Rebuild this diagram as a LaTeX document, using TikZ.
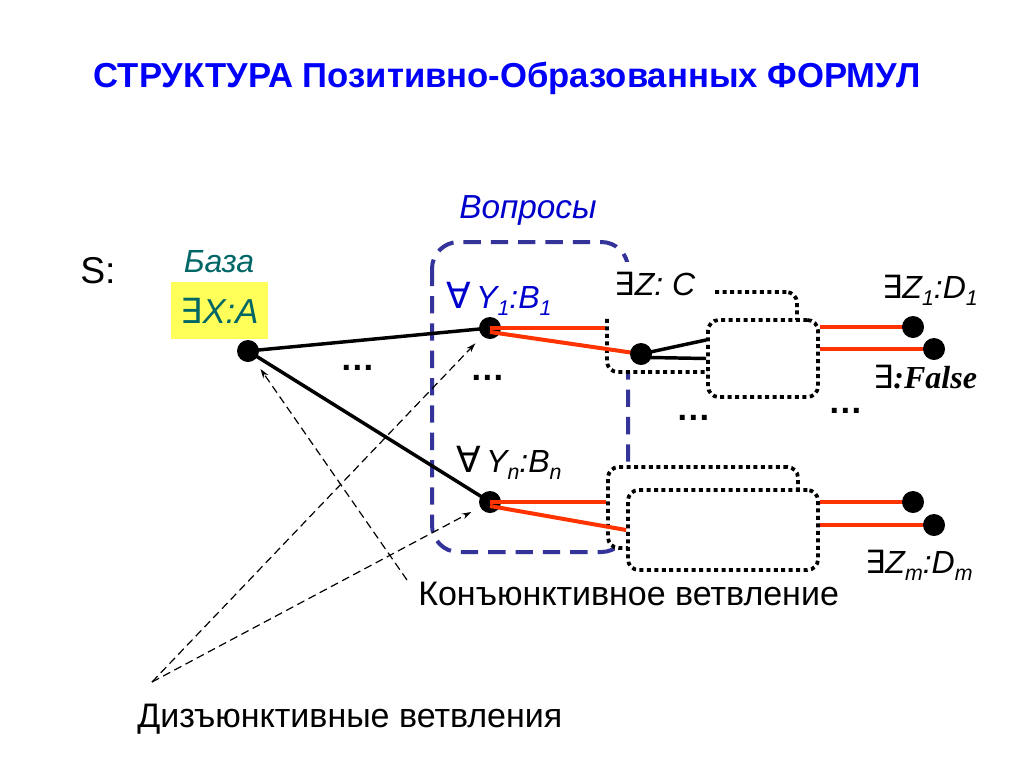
\documentclass[tikz,border=0pt]{standalone}
\usepackage{fontspec}
\setmainfont{Liberation Sans}
\newfontfamily\symf{DejaVu Sans}
\newfontfamily\timesf{Liberation Serif}
\usetikzlibrary{arrows.meta}
\definecolor{titleblue}{RGB}{0,0,250}
\definecolor{qblue}{RGB}{0,0,204}
\definecolor{navyq}{RGB}{51,51,153}
\definecolor{tealb}{RGB}{0,102,102}
\definecolor{lemon}{RGB}{255,255,90}
\definecolor{redl}{RGB}{255,51,0}
\newcommand{\fsz}[1]{\fontsize{#1}{#1}\selectfont}
\newcommand{\sbs}[1]{\raisebox{-0.22em}{\fsz{16}#1}}
\newcommand{\EXs}{{\symf\upshape ∃}}
\newcommand{\FAs}{{\symf\upshape\fsz{27}∀}}
\begin{document}
\begin{tikzpicture}[x=0.75pt,y=-0.75pt,
  dotnode/.style={circle,fill=black,inner sep=0pt,minimum size=16.5pt},
  blk/.style={line width=2.6pt,black},
  redline/.style={line width=3pt,redl},
  dotbox/.style={draw=black,line width=2.8pt,dash pattern=on 3pt off 2.6pt,rounded corners=8pt,fill=white,inner sep=0pt},
  qbox/.style={line width=3pt,navyq,dash pattern=on 13pt off 7.5pt,rounded corners=20pt},
  hint/.style={line width=0.9pt,dash pattern=on 6pt off 3.5pt,-{Stealth[length=7pt,width=4.5pt]}},
  lbl/.style={inner sep=0pt,font=\fsz{24}},
  ell/.style={inner sep=0pt,font=\fsz{26}\bfseries},
]
\useasboundingbox (0,0) rectangle (1024,768);

% title
\node[lbl,font=\fsz{26}\bfseries,text=titleblue] (title) at (507,78) {СТРУКТУРА Позитивно-Образованных ФОРМУЛ};

% questions frame
\draw[qbox] (432,242) rectangle (628,552);
\node[lbl,font=\fsz{25}\itshape,text=qblue,anchor=base] (vopr) at (528,218) {Вопросы};

% dotted boxes
\node[dotbox,minimum width=142.5pt,minimum height=60.75pt] (bback) at (703,507.5) {};
\node[dotbox,minimum width=142.5pt,minimum height=60pt] (bfront) at (723,530) {};
\node[dotbox,minimum width=142.5pt,minimum height=60pt] (tback) at (702,332) {};
\node[dotbox,minimum width=82.5pt,minimum height=57.75pt] (tfront) at (763,358.5) {};
\node[lbl,fill=white,minimum width=90pt,text height=24.75pt,text depth=15.75pt,anchor=base] (zc) at (655,295) {\EXs\itshape Z: C};

% base
\node[lbl,font=\fsz{28},anchor=base west] (S) at (80,283) {S:};
\node[lbl,font=\fsz{24}\itshape,text=tealb,anchor=base] (baza) at (219,272) {База};
\node[lbl,font=\fsz{26},fill=lemon,text=tealb,minimum width=72.75pt,minimum height=42.75pt] (xa) at (219.5,310.5) {\EXs\itshape X:A};

% main dots
\node[dotnode] (X) at (248,351) {};
\node[dotnode] (Y1) at (490,328) {};
\node[dotnode] (Yn) at (490,502) {};

\draw[blk] (X.center) -- (Y1.center);
\draw[blk] (X.center) -- (Yn.center);

% red from Y1, Yn
\coordinate (Cc) at (641,354);
\draw[redline] (Y1.center) -- (Y1.center -| tback.west);
\draw[redline] ([yshift=-3pt]Y1.center) -- (Cc);
\draw[redline] (Yn.center) -- (Yn.center -| bback.west);
\draw[redline] ([yshift=-3pt]Yn.center) -- (bfront.west);

\node[dotnode] (C) at (Cc) {};
\draw[blk] (C.center) -- ([yshift=13.9pt]tfront.west);
\draw[blk] ([yshift=-2.5pt]C.center) -- (tfront.west);

% right dots
\coordinate (d1) at (913,327);
\coordinate (f1) at (934,349);
\coordinate (dm1) at (913,502);
\coordinate (dm2) at (934,525);
\draw[redline] (d1 -| tfront.east) -- (d1);
\draw[redline] (f1 -| tfront.east) -- (f1);
\draw[redline] (dm1 -| bfront.east) -- (dm1);
\draw[redline] (dm2 -| bfront.east) -- (dm2);
\node[dotnode] (D1) at (d1) {};
\node[dotnode] (F) at (f1) {};
\node[dotnode] (Dm1) at (dm1) {};
\node[dotnode] (Dm2) at (dm2) {};

% labels
\node[lbl,text=qblue,anchor=base west] (ly1) at (446,308) {\FAs\,\itshape Y\sbs{1}:B\sbs{1}};
\node[lbl,anchor=base west] (lyn) at (456,472) {\FAs\,\itshape Y\sbs{n}:B\sbs{n}};
\node[lbl,anchor=base west] (lz1) at (882,298) {\EXs\itshape Z\sbs{1}:D\sbs{1}};
\node[lbl,anchor=base west] (lf) at (873,388) {\EXs{\timesf\bfseries\itshape :False}};
\node[lbl,anchor=base west] (lzm) at (865,573) {\EXs\itshape Z\sbs{m}:D\sbs{m}};

\node[ell] (e1) at (358,368) {…};
\node[ell] (e2) at (488,378) {…};
\node[ell] (e3) at (694,418) {…};
\node[ell] (e4) at (846,411) {…};

\node[lbl,font=\fsz{25.5},anchor=base west] (konj) at (418,605) {Конъюнктивное ветвление};
\node[lbl,font=\fsz{25.5},anchor=base west] (disj) at (137,727) {Дизъюнктивные ветвления};

% hint arrows
\coordinate (P) at (152,682);
\coordinate (Q) at (407,580);
\draw[hint,shorten >=7.5pt] (P) -- (Y1);
\draw[hint,shorten >=7.5pt] (P) -- (Yn);
\draw[hint,shorten >=8pt] (Q) -- (X);
\end{tikzpicture}
\end{document}
